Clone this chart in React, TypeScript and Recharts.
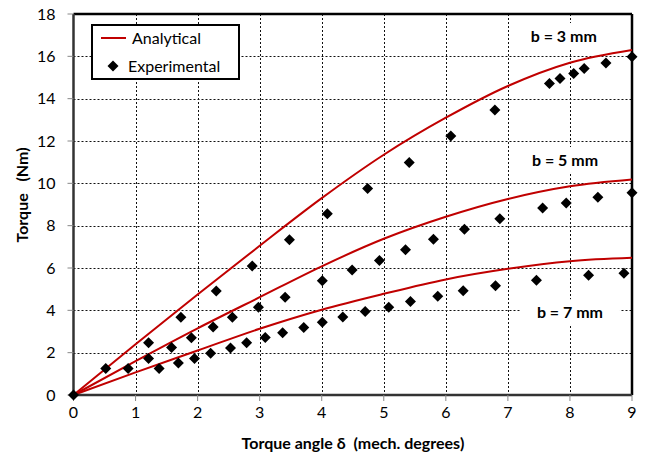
import React from "react";
import {
  ComposedChart,
  Line,
  Scatter,
  XAxis,
  YAxis,
  CartesianGrid,
  ReferenceLine,
  ReferenceDot,
  Legend,
} from "recharts";

const RED = "#C00000";
const FONT = "Lato, 'Open Sans', sans-serif";

// analytical curves, read at each whole degree
const ANGLES = [0, 1, 2, 3, 4, 5, 6, 7, 8, 9];
const ANALYTICAL_B3 = [0, 2.4, 4.75, 7.05, 9.3, 11.35, 13.1, 14.6, 15.7, 16.3];
const ANALYTICAL_B5 = [0, 1.6, 3.15, 4.62, 6.08, 7.38, 8.42, 9.26, 9.86, 10.18];
const ANALYTICAL_B7 = [0, 1.07, 2.1, 3.13, 4.03, 4.78, 5.46, 5.96, 6.32, 6.48];

// measured points
const EXP_B3_X = [0, 0.52, 1.21, 1.73, 2.3, 2.88, 3.48, 4.09, 4.74, 5.41, 6.08, 6.79, 7.67, 7.84, 8.06, 8.23, 8.58, 9.0];
const EXP_B3_Y = [0, 1.25, 2.47, 3.67, 4.91, 6.1, 7.33, 8.56, 9.76, 10.99, 12.24, 13.46, 14.72, 14.95, 15.19, 15.43, 15.68, 15.98];
const EXP_B5_X = [0.88, 1.21, 1.58, 1.9, 2.25, 2.56, 2.98, 3.41, 4.01, 4.49, 4.93, 5.35, 5.8, 6.3, 6.87, 7.56, 7.94, 8.45, 9.0];
const EXP_B5_Y = [1.25, 1.72, 2.25, 2.71, 3.21, 3.67, 4.15, 4.62, 5.4, 5.9, 6.35, 6.86, 7.36, 7.83, 8.33, 8.84, 9.07, 9.34, 9.55];
const EXP_B7_X = [1.38, 1.69, 1.95, 2.21, 2.53, 2.79, 3.09, 3.37, 3.71, 4.01, 4.34, 4.7, 5.08, 5.43, 5.87, 6.28, 6.8, 7.46, 8.3, 8.87];
const EXP_B7_Y = [1.25, 1.51, 1.72, 1.97, 2.22, 2.47, 2.72, 2.94, 3.19, 3.44, 3.68, 3.95, 4.15, 4.42, 4.66, 4.92, 5.16, 5.42, 5.66, 5.75];

const X_TICKS = [0, 1, 2, 3, 4, 5, 6, 7, 8, 9];
const Y_TICKS = [0, 2, 4, 6, 8, 10, 12, 14, 16, 18];
const X_MAX = 9;
const Y_MAX = 18;

const ANNOTATIONS = [
  { text: "b = 3 mm", x: 7.9, y: 16.96 },
  { text: "b = 5 mm", x: 7.92, y: 11.1 },
  { text: "b = 7 mm", x: 8.0, y: 3.91 },
];

const analyticalRows = ANGLES.map((x, i) => ({
  x,
  b3: ANALYTICAL_B3[i],
  b5: ANALYTICAL_B5[i],
  b7: ANALYTICAL_B7[i],
}));

const toPoints = (xs: number[], ys: number[]) => xs.map((x, i) => ({ x, y: ys[i] }));
const experimentalRows = [
  ...toPoints(EXP_B3_X, EXP_B3_Y),
  ...toPoints(EXP_B5_X, EXP_B5_Y),
  ...toPoints(EXP_B7_X, EXP_B7_Y),
];

const snap = (v: number) => Math.round(v) + 0.5;

// grid positions from the axis scale, snapped to whole pixels so the dots stay crisp
const verticalGrid = (props: any) => {
  const { xAxis, offset } = props;
  const inner = X_TICKS.slice(1, -1);
  if (xAxis && typeof xAxis.scale === "function") return inner.map((t) => snap(xAxis.scale(t)));
  return inner.map((t) => snap(offset.left + (offset.width * t) / X_MAX));
};
const horizontalGrid = (props: any) => {
  const { yAxis, offset } = props;
  const inner = Y_TICKS.slice(1, -1);
  if (yAxis && typeof yAxis.scale === "function") return inner.map((t) => snap(yAxis.scale(t)));
  return inner.map((t) => snap(offset.top + offset.height * (1 - t / Y_MAX)));
};

const Diamond = (props: any) => {
  const { cx, cy } = props;
  const r = 5.5;
  return <polygon points={`${cx},${cy - r} ${cx + r},${cy} ${cx},${cy + r} ${cx - r},${cy}`} fill="#000" />;
};

const LegendBox = () => (
  <div
    style={{
      width: 149,
      height: 56,
      boxSizing: "border-box",
      border: "2px solid #000",
      background: "#fff",
      position: "relative",
      fontFamily: FONT,
      fontSize: 16,
      color: "#000",
    }}
  >
    <svg width={40} height={52} style={{ position: "absolute", left: 0, top: 0 }}>
      <line x1={8} y1={12} x2={33} y2={12} stroke={RED} strokeWidth={2} />
      <Diamond cx={20} cy={40} />
    </svg>
    <div style={{ position: "absolute", left: 39, top: 2, lineHeight: "20px" }}>Analytical</div>
    <div style={{ position: "absolute", left: 35, top: 30, lineHeight: "20px" }}>Experimental</div>
  </div>
);

const AnnotationLabel = (text: string) => (props: any) => {
  const { viewBox } = props;
  const cx = viewBox.x + (viewBox.width || 0) / 2;
  const cy = viewBox.y + (viewBox.height || 0) / 2;
  return (
    <g>
      <rect x={cx - 50} y={cy - 13} width={100} height={26} fill="#fff" />
      <text x={cx} y={cy} dy="0.35em" textAnchor="middle" fontFamily={FONT} fontSize={16} fontWeight="bold" fill="#000">
        {text}
      </text>
    </g>
  );
};

const YTitle = () => (
  <text
    x={22}
    y={195}
    transform="rotate(-90 22 195)"
    textAnchor="middle"
    dy="0.35em"
    fontFamily={FONT}
    fontSize={16}
    fontWeight="bold"
    fill="#000"
    style={{ whiteSpace: "pre" }}
  >
    {"Torque   (Nm)"}
  </text>
);

const XTitle = () => (
  <text
    x={353}
    y={443}
    textAnchor="middle"
    dy="0.35em"
    fontFamily={FONT}
    fontSize={16}
    fontWeight="bold"
    fill="#000"
    style={{ whiteSpace: "pre" }}
  >
    {"Torque angle δ  (mech. degrees)"}
  </text>
);

const tickStyle = { fontFamily: FONT, fontSize: 16, fill: "#000" };

export default function App() {
  return (
    <div style={{ position: "absolute", left: 0, top: 0, background: "#fff" }}>
      <ComposedChart
        width={655}
        height={463}
        data={analyticalRows}
        margin={{ top: 14, right: 23, bottom: 38, left: 0 }}
      >
        <CartesianGrid
          stroke="#111"
          strokeWidth={1}
          strokeDasharray="2 2"
          verticalCoordinatesGenerator={verticalGrid}
          horizontalCoordinatesGenerator={horizontalGrid}
        />
        <XAxis
          type="number"
          dataKey="x"
          domain={[0, X_MAX]}
          ticks={X_TICKS}
          interval={0}
          height={30}
          tick={tickStyle}
          tickSize={6}
          tickMargin={6}
          axisLine={{ stroke: "#333", strokeWidth: 2.5 }}
          tickLine={{ stroke: "#888" }}
          label={{ content: () => <XTitle /> }}
        />
        <YAxis
          type="number"
          domain={[0, Y_MAX]}
          ticks={Y_TICKS}
          interval={0}
          width={73.5}
          tick={tickStyle}
          tickSize={6}
          tickMargin={12}
          axisLine={{ stroke: "#333", strokeWidth: 2.5 }}
          tickLine={{ stroke: "#888" }}
          label={{ content: () => <YTitle /> }}
        />
        <ReferenceLine x={X_MAX} stroke="#000" strokeWidth={2.5} />
        <ReferenceLine y={Y_MAX} stroke="#000" strokeWidth={2.5} />
        {ANNOTATIONS.map((a) => (
          <ReferenceDot
            key={a.text}
            x={a.x}
            y={a.y}
            r={0}
            stroke="none"
            fill="none"
            label={{ content: AnnotationLabel(a.text) }}
          />
        ))}
        <Line type="monotone" dataKey="b3" stroke={RED} strokeWidth={2} dot={false} isAnimationActive={false} />
        <Line type="monotone" dataKey="b5" stroke={RED} strokeWidth={2} dot={false} isAnimationActive={false} />
        <Line type="monotone" dataKey="b7" stroke={RED} strokeWidth={2} dot={false} isAnimationActive={false} />
        <Scatter data={experimentalRows} dataKey="y" shape={<Diamond />} isAnimationActive={false} />
        <Legend
          verticalAlign="middle"
          content={() => <LegendBox />}
          wrapperStyle={{ position: "absolute", left: 91, top: 24, width: 149, height: 56 }}
        />
      </ComposedChart>
    </div>
  );
}
